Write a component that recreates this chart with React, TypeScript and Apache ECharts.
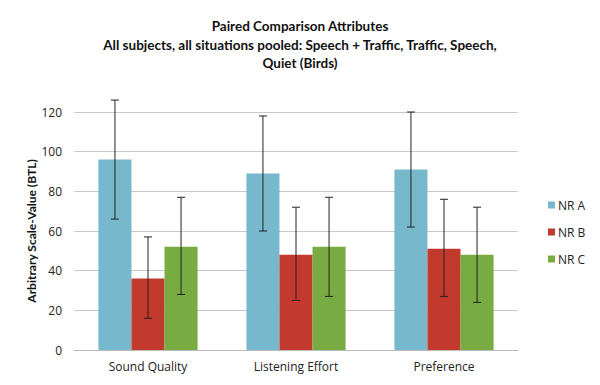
import React, { useEffect, useRef } from "react";
import * as echarts from "echarts";

const categories = ["Sound Quality", "Listening Effort", "Preference"];
const seriesNames = ["NR A", "NR B", "NR C"];
const nrA = [96, 89, 91];
const nrB = [36, 48, 51];
const nrC = [52, 52, 48];
const nrALow = [66, 60, 62];
const nrAHigh = [126, 118, 120];
const nrBLow = [16, 25, 27];
const nrBHigh = [57, 72, 76];
const nrCLow = [28, 27, 24];
const nrCHigh = [77, 77, 72];
const yTicks = [0, 20, 40, 60, 80, 100, 120];

const colors = ["#77B8CC", "#C23A2D", "#78AC42"];

export default function App() {
  const ref = useRef<HTMLDivElement>(null);
  useEffect(() => {
    if (!ref.current) return;
    const chart = echarts.init(ref.current, null, { renderer: "svg" });
    const values = [nrA, nrB, nrC];
    const lows = [nrALow, nrBLow, nrCLow];
    const highs = [nrAHigh, nrBHigh, nrCHigh];
    const gapRatio = 0.33;
    const barSeries = values.map((v, i) => ({
      name: seriesNames[i],
      type: "bar",
      data: v,
      barGap: "0%",
      barCategoryGap: "33%",
      itemStyle: { color: colors[i] },
    }));
    const errSeries = values.map((v, i) => ({
      type: "custom",
      name: seriesNames[i] + " err",
      z: 10,
      renderItem: (params: any, api: any) => {
        const idx = api.value(0);
        const lo = api.coord([idx, api.value(1)]);
        const hi = api.coord([idx, api.value(2)]);
        const band = api.size([1, 0])[0];
        const barW = (band * (1 - gapRatio)) / 3;
        const x = hi[0] + (i - 1) * barW;
        const cap = 4;
        const st = { stroke: "#222", lineWidth: 1 };
        return {
          type: "group",
          children: [
            { type: "line", shape: { x1: x, y1: hi[1], x2: x, y2: lo[1] }, style: st },
            { type: "line", shape: { x1: x - cap, y1: hi[1], x2: x + cap, y2: hi[1] }, style: st },
            { type: "line", shape: { x1: x - cap, y1: lo[1], x2: x + cap, y2: lo[1] }, style: st },
          ],
        };
      },
      encode: { x: 0, y: [1, 2] },
      data: categories.map((_, k) => [k, lows[i][k], highs[i][k]]),
      silent: true,
    }));
    chart.setOption({
      animation: false,
      backgroundColor: "#ffffff",
      title: {
        text: "Paired Comparison Attributes\nAll subjects, all situations pooled: Speech + Traffic, Traffic, Speech,\nQuiet (Birds)",
        left: "center",
        top: 12,
        textStyle: {
          fontFamily: "Lato",
          fontWeight: "bold",
          fontSize: 13.5,
          lineHeight: 18.5,
          color: "#111",
        },
      },
      legend: {
        data: seriesNames,
        orient: "vertical",
        left: 543,
        top: 194,
        itemWidth: 7,
        itemHeight: 7,
        itemGap: 15,
        icon: "rect",
        textStyle: { fontFamily: "Open Sans", fontSize: 12, color: "#222", padding: [0, 0, 0, -2] },
      },
      grid: { left: 74, right: 82, top: 112, bottom: 35 },
      xAxis: {
        type: "category",
        data: categories,
        axisTick: { show: false },
        axisLine: { lineStyle: { color: "#bbbbbb" } },
        axisLabel: { fontFamily: "Open Sans", fontSize: 12, color: "#222", margin: 10 },
      },
      yAxis: {
        type: "value",
        min: 0,
        max: 120,
        interval: 20,
        name: "Arbitrary Scale-Value (BTL)",
        nameLocation: "middle",
        nameGap: 37,
        nameMoveOverlap: false,
        nameTextStyle: { fontFamily: "Lato", fontWeight: "bold", fontSize: 12, color: "#111" },
        axisLine: { show: false },
        axisTick: { show: false },
        axisLabel: { fontFamily: "Open Sans", fontSize: 12, color: "#222", margin: 12, customValues: yTicks },
        splitLine: { lineStyle: { color: "#c8c8c8" } },
      },
      series: [...barSeries, ...errSeries],
    });
    return () => chart.dispose();
  }, []);
  return (
    <div
      ref={ref}
      style={{ position: "fixed", left: 0, top: 0, width: 600, height: 385 }}
    />
  );
}
